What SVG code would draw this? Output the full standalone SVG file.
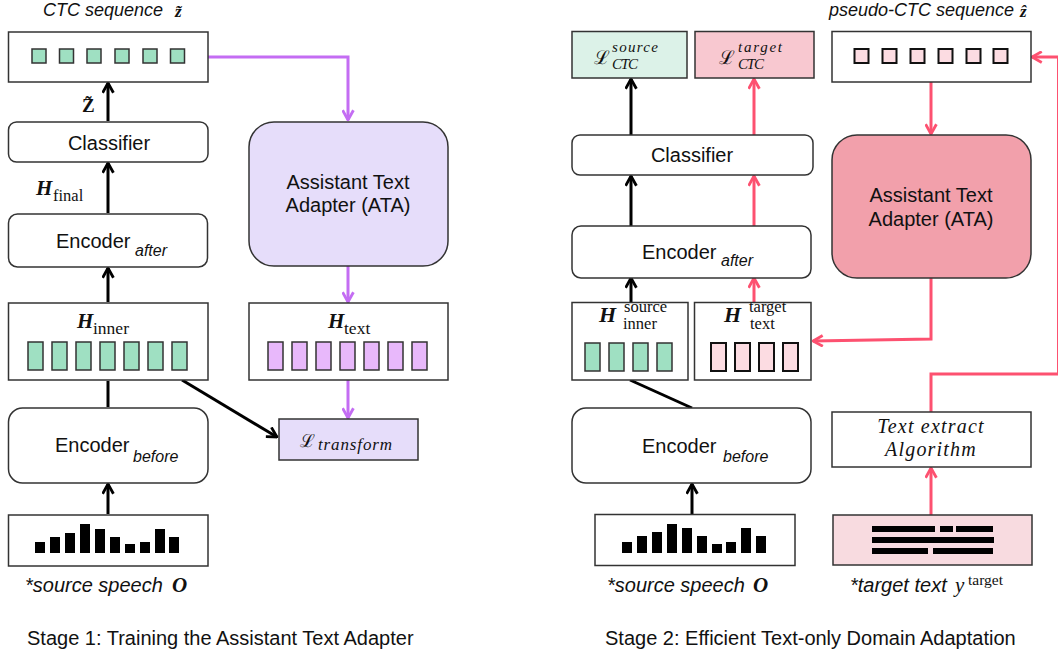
<svg xmlns="http://www.w3.org/2000/svg" width="1058" height="655" viewBox="0 0 1058 655">
<style>
.box{fill:#fff;stroke:#333;stroke-width:1.5}
.t{font-family:"Liberation Sans",Arial,sans-serif;font-size:20px;fill:#111}
.ti{font-family:"Liberation Sans",Arial,sans-serif;font-size:20px;font-style:italic;fill:#111}
.sub{font-family:"Liberation Sans",Arial,sans-serif;font-size:16px;font-style:italic;fill:#111}
.cap{font-family:"Liberation Sans",Arial,sans-serif;font-size:18px;font-style:italic;fill:#111}
.m{font-family:"Liberation Serif","DejaVu Serif",serif;fill:#111}
.mb{font-family:"Liberation Serif","DejaVu Serif",serif;font-weight:bold;font-style:italic;fill:#111}
.blk{stroke:#000;stroke-width:3;fill:none}
.pk{stroke:#fd5170;stroke-width:3;fill:none}
.pp{stroke:#c46df3;stroke-width:3;fill:none}
.gsq{fill:#9fe0c2;stroke:#333;stroke-width:1.5}
.psq{fill:#fcdce2;stroke:#111;stroke-width:2}
.vsq{fill:#e8b8fb;stroke:#333;stroke-width:1.5}
.bar{fill:#000}
</style>
<defs>
<marker id="ab" viewBox="0 0 12 12" refX="11" refY="6" markerWidth="13" markerHeight="13" markerUnits="userSpaceOnUse" orient="auto"><path d="M2,1 L11,6 L2,11" fill="none" stroke="#000" stroke-width="2.6"/></marker>
<marker id="ak" viewBox="0 0 12 12" refX="11" refY="6" markerWidth="13" markerHeight="13" markerUnits="userSpaceOnUse" orient="auto"><path d="M2,1 L11,6 L2,11" fill="none" stroke="#fd5170" stroke-width="2.6"/></marker>
<marker id="ap" viewBox="0 0 12 12" refX="11" refY="6" markerWidth="13" markerHeight="13" markerUnits="userSpaceOnUse" orient="auto"><path d="M2,1 L11,6 L2,11" fill="none" stroke="#c46df3" stroke-width="2.6"/></marker>
</defs>

<!-- connectors -->
<g id="connectors">
<!-- stage 1 -->
<line class="blk" x1="108" y1="121" x2="108" y2="83" marker-end="url(#ab)"/>
<line class="blk" x1="108" y1="213" x2="108" y2="163" marker-end="url(#ab)"/>
<line class="blk" x1="108" y1="302" x2="108" y2="268" marker-end="url(#ab)"/>
<line class="blk" x1="108" y1="407" x2="108" y2="381"/>
<line class="blk" x1="108" y1="514" x2="108" y2="484" marker-end="url(#ab)"/>
<line class="blk" x1="182" y1="380" x2="277" y2="437" marker-end="url(#ab)"/>
<polyline class="pp" points="208,57 348,57 348,120" marker-end="url(#ap)"/>
<line class="pp" x1="348" y1="266" x2="348" y2="302" marker-end="url(#ap)"/>
<line class="pp" x1="348" y1="380" x2="348" y2="418" marker-end="url(#ap)"/>
<!-- stage 2 -->
<line class="blk" x1="631" y1="135" x2="631" y2="79" marker-end="url(#ab)"/>
<line class="pk" x1="754" y1="135" x2="754" y2="79" marker-end="url(#ak)"/>
<line class="blk" x1="631" y1="226" x2="631" y2="176" marker-end="url(#ab)"/>
<line class="pk" x1="754" y1="226" x2="754" y2="176" marker-end="url(#ak)"/>
<line class="blk" x1="631" y1="302" x2="631" y2="278" marker-end="url(#ab)"/>
<line class="pk" x1="754" y1="302" x2="754" y2="278" marker-end="url(#ak)"/>
<line class="blk" x1="630" y1="380" x2="692" y2="408"/>
<line class="blk" x1="692" y1="514" x2="692" y2="484" marker-end="url(#ab)"/>
<line class="pk" x1="931" y1="82" x2="931" y2="134" marker-end="url(#ak)"/>
<polyline class="pk" points="931,278 931,339 813,341" marker-end="url(#ak)"/>
<polyline class="pk" points="931,412 931,374 1058.5,374 1058.5,57 1032,57" marker-end="url(#ak)"/>
<line class="pk" x1="931" y1="515" x2="931" y2="468" marker-end="url(#ak)"/>
</g>

<!-- ===== Stage 1 ===== -->
<g id="s1-ctc">
<text class="cap" x="43" y="16">CTC sequence</text>
<text class="mb" x="175" y="17" font-size="17" font-style="normal">z̃</text>
<rect class="box" x="8.5" y="32" width="199.5" height="50"/>
<rect class="gsq" x="32" y="49" width="14" height="14"/>
<rect class="gsq" x="59.5" y="49" width="14" height="14"/>
<rect class="gsq" x="87" y="49" width="14" height="14"/>
<rect class="gsq" x="115" y="49" width="14" height="14"/>
<rect class="gsq" x="143" y="49" width="14" height="14"/>
<rect class="gsq" x="170.5" y="49" width="14" height="14"/>
<text class="m" x="82" y="112" font-size="19" font-weight="bold">Z̃</text>
</g>

<g id="s1-classifier">
<rect class="box" x="8.5" y="122" width="199.5" height="40" rx="8"/>
<text class="t" x="109" y="150" text-anchor="middle">Classifier</text>
<text class="mb" x="36" y="195" font-size="21">H</text>
<text class="m" x="53" y="201" font-size="16.5">final</text>
</g>

<g id="s1-enc-after">
<rect class="box" x="8.5" y="214" width="199" height="53" rx="9"/>
<text class="t" x="56" y="248">Encoder</text>
<text class="sub" x="135" y="256">after</text>
</g>

<g id="s1-hinner">
<rect class="box" x="8.5" y="303" width="199.5" height="77"/>
<text class="mb" x="77" y="328" font-size="21">H</text>
<text class="m" x="93" y="334" font-size="17.5">inner</text>
<rect class="gsq" x="28" y="342" width="15" height="28"/>
<rect class="gsq" x="52" y="342" width="15" height="28"/>
<rect class="gsq" x="76" y="342" width="15" height="28"/>
<rect class="gsq" x="100" y="342" width="15" height="28"/>
<rect class="gsq" x="124" y="342" width="15" height="28"/>
<rect class="gsq" x="148" y="342" width="15" height="28"/>
<rect class="gsq" x="172" y="342" width="15" height="28"/>
</g>

<g id="s1-enc-before">
<rect class="box" x="8.5" y="408" width="199.5" height="75" rx="14"/>
<text class="t" x="55" y="452">Encoder</text>
<text class="sub" x="133" y="462">before</text>
</g>

<g id="s1-speech">
<rect class="box" x="8.5" y="515" width="199.5" height="51"/>
<rect class="bar" x="35" y="542" width="10" height="11"/>
<rect class="bar" x="50" y="537" width="10" height="16"/>
<rect class="bar" x="65" y="533" width="10" height="20"/>
<rect class="bar" x="80" y="524" width="10" height="29"/>
<rect class="bar" x="95" y="529" width="10" height="24"/>
<rect class="bar" x="110" y="537" width="10" height="16"/>
<rect class="bar" x="125" y="544" width="10" height="9"/>
<rect class="bar" x="140" y="542" width="10" height="11"/>
<rect class="bar" x="155" y="529" width="10" height="24"/>
<rect class="bar" x="169" y="537" width="10" height="16"/>
<text class="ti" x="25" y="592">*source speech</text>
<text class="mb" x="172" y="592" font-size="21">O</text>
</g>

<g id="s1-ata">
<rect x="249" y="122" width="199" height="144" rx="25" fill="#e6ddfa" stroke="#333" stroke-width="1.5"/>
<text class="t" x="348" y="189" text-anchor="middle">Assistant Text</text>
<text class="t" x="348" y="212" text-anchor="middle">Adapter (ATA)</text>
</g>

<g id="s1-htext">
<rect class="box" x="249" y="303" width="199" height="77"/>
<text class="mb" x="328" y="328" font-size="21">H</text>
<text class="m" x="344" y="334" font-size="17.5">text</text>
<rect class="vsq" x="268" y="342" width="15" height="28"/>
<rect class="vsq" x="292" y="342" width="15" height="28"/>
<rect class="vsq" x="316" y="342" width="15" height="28"/>
<rect class="vsq" x="340" y="342" width="15" height="28"/>
<rect class="vsq" x="364" y="342" width="15" height="28"/>
<rect class="vsq" x="388" y="342" width="15" height="28"/>
<rect class="vsq" x="412" y="342" width="15" height="28"/>
</g>

<g id="s1-ltransform">
<rect x="279" y="419" width="139" height="41" fill="#e6ddfa" stroke="#333" stroke-width="1.5"/>
<text class="m" x="300" y="447" font-size="18">ℒ</text>
<text class="m" x="318" y="450" font-size="17" font-style="italic" textLength="74" lengthAdjust="spacing">transform</text>
</g>

<text class="t" x="27" y="645">Stage 1: Training the Assistant Text Adapter</text>

<!-- ===== Stage 2 ===== -->
<g id="s2-lsource">
<rect x="572" y="31.5" width="115" height="46.5" fill="#dcf2e8" stroke="#333" stroke-width="1.5"/>
<text class="m" x="594" y="64" font-size="19">ℒ</text>
<text class="m" x="612" y="52" font-size="15" font-style="italic" textLength="46" lengthAdjust="spacing">source</text>
<text class="m" x="612" y="69" font-size="15" font-style="italic" textLength="26" lengthAdjust="spacing">CTC</text>
</g>

<g id="s2-ltarget">
<rect x="695" y="31.5" width="119" height="46.5" fill="#f8c8d0" stroke="#333" stroke-width="1.5"/>
<text class="m" x="719" y="64" font-size="19">ℒ</text>
<text class="m" x="738" y="52" font-size="15" font-style="italic" textLength="44" lengthAdjust="spacing">target</text>
<text class="m" x="738" y="69" font-size="15" font-style="italic" textLength="26" lengthAdjust="spacing">CTC</text>
</g>

<g id="s2-pseudo">
<text class="cap" x="829" y="16">pseudo-CTC sequence</text>
<text class="mb" x="1020" y="17" font-size="17" font-style="normal">ẑ</text>
<rect class="box" x="832" y="31.5" width="199" height="50.5"/>
<rect class="psq" x="854.5" y="49" width="14" height="14"/>
<rect class="psq" x="882.5" y="49" width="14" height="14"/>
<rect class="psq" x="910.5" y="49" width="14" height="14"/>
<rect class="psq" x="938.5" y="49" width="14" height="14"/>
<rect class="psq" x="966.5" y="49" width="14" height="14"/>
<rect class="psq" x="993.5" y="49" width="14" height="14"/>
</g>

<g id="s2-classifier">
<rect class="box" x="572" y="135" width="241" height="40" rx="8"/>
<text class="t" x="692" y="162" text-anchor="middle">Classifier</text>
</g>

<g id="s2-ata">
<rect x="832" y="135" width="199" height="143" rx="25" fill="#f2a0ab" stroke="#333" stroke-width="1.5"/>
<text class="t" x="931" y="202" text-anchor="middle">Assistant Text</text>
<text class="t" x="931" y="226" text-anchor="middle">Adapter (ATA)</text>
</g>

<g id="s2-enc-after">
<rect class="box" x="572" y="226" width="239" height="52" rx="9"/>
<text class="t" x="642" y="259">Encoder</text>
<text class="sub" x="721" y="266">after</text>
</g>

<g id="s2-hsource">
<rect class="box" x="572" y="302.5" width="116" height="77.5"/>
<text class="mb" x="599" y="322" font-size="22">H</text>
<text class="m" x="624" y="312" font-size="16.5">source</text>
<text class="m" x="623" y="329" font-size="16.5">inner</text>
<rect class="gsq" x="585" y="343" width="15" height="28"/>
<rect class="gsq" x="609" y="343" width="15" height="28"/>
<rect class="gsq" x="633" y="343" width="15" height="28"/>
<rect class="gsq" x="657" y="343" width="15" height="28"/>
</g>

<g id="s2-htarget">
<rect class="box" x="694.5" y="302.5" width="116.5" height="77.5"/>
<text class="mb" x="724" y="322" font-size="22">H</text>
<text class="m" x="749" y="312" font-size="16.5">target</text>
<text class="m" x="750" y="329" font-size="16.5">text</text>
<rect class="psq" x="711" y="343" width="15" height="28" stroke-width="1.5"/>
<rect class="psq" x="735" y="343" width="15" height="28" stroke-width="1.5"/>
<rect class="psq" x="759" y="343" width="15" height="28" stroke-width="1.5"/>
<rect class="psq" x="783" y="343" width="15" height="28" stroke-width="1.5"/>
</g>

<g id="s2-enc-before">
<rect class="box" x="572" y="408" width="239" height="75" rx="14"/>
<text class="t" x="642" y="453">Encoder</text>
<text class="sub" x="723" y="462">before</text>
</g>

<g id="s2-speech">
<rect class="box" x="595" y="514.5" width="200" height="51"/>
<rect class="bar" x="622" y="542" width="10" height="11"/>
<rect class="bar" x="637" y="536" width="10" height="17"/>
<rect class="bar" x="652" y="532" width="10" height="21"/>
<rect class="bar" x="667" y="524" width="10" height="29"/>
<rect class="bar" x="682" y="528" width="10" height="25"/>
<rect class="bar" x="697" y="536" width="10" height="17"/>
<rect class="bar" x="712" y="544" width="10" height="9"/>
<rect class="bar" x="726" y="542" width="10" height="11"/>
<rect class="bar" x="741" y="528" width="10" height="25"/>
<rect class="bar" x="756" y="536" width="10" height="17"/>
<text class="ti" x="607" y="592">*source speech</text>
<text class="mb" x="753" y="592" font-size="21">O</text>
</g>

<g id="s2-extract">
<rect class="box" x="832" y="412" width="199" height="55"/>
<text class="m" x="931" y="433" font-size="20" font-style="italic" text-anchor="middle" letter-spacing="1.2">Text extract</text>
<text class="m" x="931" y="456" font-size="20" font-style="italic" text-anchor="middle" letter-spacing="1.2">Algorithm</text>
</g>

<g id="s2-target-text">
<rect x="833" y="515" width="199" height="50" fill="#f8dbe0" stroke="#333" stroke-width="1.5"/>
<rect class="bar" x="872" y="526" width="63" height="6"/>
<rect class="bar" x="940" y="526" width="13" height="6"/>
<rect class="bar" x="956" y="526" width="37" height="6"/>
<rect class="bar" x="872" y="537" width="122" height="6"/>
<rect class="bar" x="872" y="548" width="56" height="6"/>
<rect class="bar" x="933" y="548" width="60" height="6"/>
<text class="ti" x="850" y="592">*target text</text>
<text class="m" x="955" y="592" font-size="21" font-style="italic">y</text>
<text class="m" x="968" y="585" font-size="15.5">target</text>
</g>

<text class="t" x="605" y="645">Stage 2: Efficient Text-only Domain Adaptation</text>
</svg>
